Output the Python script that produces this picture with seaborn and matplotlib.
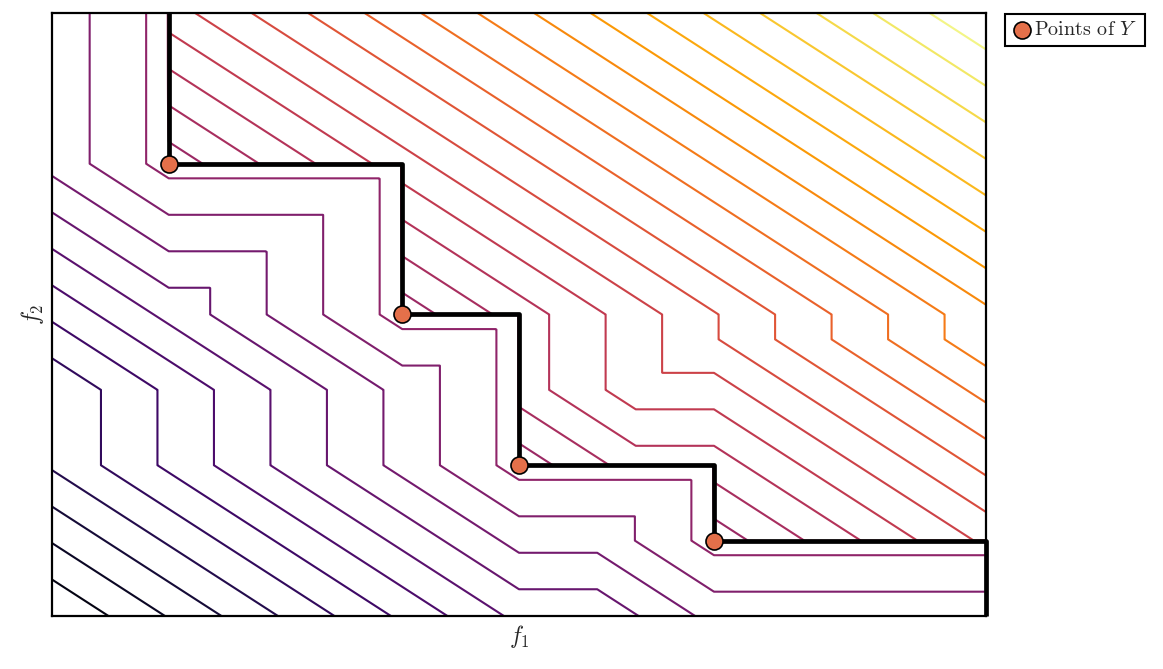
import numpy as np
import pandas as pd
import matplotlib.pyplot as plt
import seaborn as sns

# points of Y (axes run 0..8 on both sides)
y_f1 = [1.0, 3.0, 4.0, 5.67]
y_f2 = [6.0, 4.0, 2.0, 1.0]
f1_lim = (0.0, 8.0)
f2_lim = (0.0, 8.0)
n_levels = 30

sns.set_style('white')
plt.rcParams['font.family'] = ['cmr10', 'DejaVu Sans']
plt.rcParams['mathtext.fontset'] = 'cm'
plt.rcParams['axes.unicode_minus'] = False

# signed L1 distance to the attainment surface of Y
g1, g2 = np.meshgrid(np.linspace(*f1_lim, 801), np.linspace(*f2_lim, 801))
p1 = np.array(y_f1)[:, None, None]
p2 = np.array(y_f2)[:, None, None]
d_plus = (np.maximum(g1 - p1, 0) + np.maximum(g2 - p2, 0)).min(axis=0)
d_minus = (np.maximum(p1 - g1, 0) + np.maximum(p2 - g2, 0)).min(axis=0)
dominated = ((g1 >= p1) & (g2 >= p2)).any(axis=0)
z = np.where(dominated, d_plus, -d_minus)

levels = np.linspace(z.min(), z.max(), n_levels + 2)[1:-1]

fig = plt.figure(figsize=(11.63, 6.69), dpi=100)
ax = fig.add_axes([52 / 1163, 53 / 669, 934 / 1163, 603 / 669])

ax.contour(g1, g2, z, levels=levels, cmap='inferno',
           vmin=z.min(), vmax=z.max(), linewidths=1.5)

# staircase through the points
sx, sy = [y_f1[0]], [f2_lim[1]]
for i in range(len(y_f1)):
    sx += [y_f1[i]]
    sy += [y_f2[i]]
    nx = y_f1[i + 1] if i + 1 < len(y_f1) else f1_lim[1]
    sx += [nx]
    sy += [y_f2[i]]
sx += [f1_lim[1]]
sy += [f2_lim[0]]
stairs = pd.DataFrame({'f1': sx, 'f2': sy})
sns.lineplot(data=stairs, x='f1', y='f2', sort=False, estimator=None,
             errorbar=None, color='black', linewidth=3.4, ax=ax,
             legend=False, zorder=3, clip_on=False, solid_capstyle='butt')

pts = pd.DataFrame({'f1': y_f1, 'f2': y_f2})
sns.scatterplot(data=pts, x='f1', y='f2', color='#E4704A', edgecolor='black',
                linewidth=1.2, s=150, ax=ax, zorder=4, label='Points of $Y$')

ax.set_xlim(*f1_lim)
ax.set_ylim(*f2_lim)
ax.set_xticks([])
ax.set_yticks([])
ax.set_xlabel('$f_1$', fontsize=17, labelpad=5)
ax.set_ylabel('$f_2$', fontsize=17, labelpad=4)
for s in ax.spines.values():
    s.set_color('black')
    s.set_linewidth(1.6)

leg = ax.legend(loc='upper left', bbox_to_anchor=(1005 / 1163, 1 - 14 / 669),
                bbox_transform=fig.transFigure, borderaxespad=0, fontsize=14.5,
                frameon=True, fancybox=False, framealpha=1, edgecolor='black',
                handletextpad=0.1, borderpad=0.35, handlelength=1.0)
leg.get_frame().set_linewidth(1.5)

plt.savefig('out.png', dpi=100)
